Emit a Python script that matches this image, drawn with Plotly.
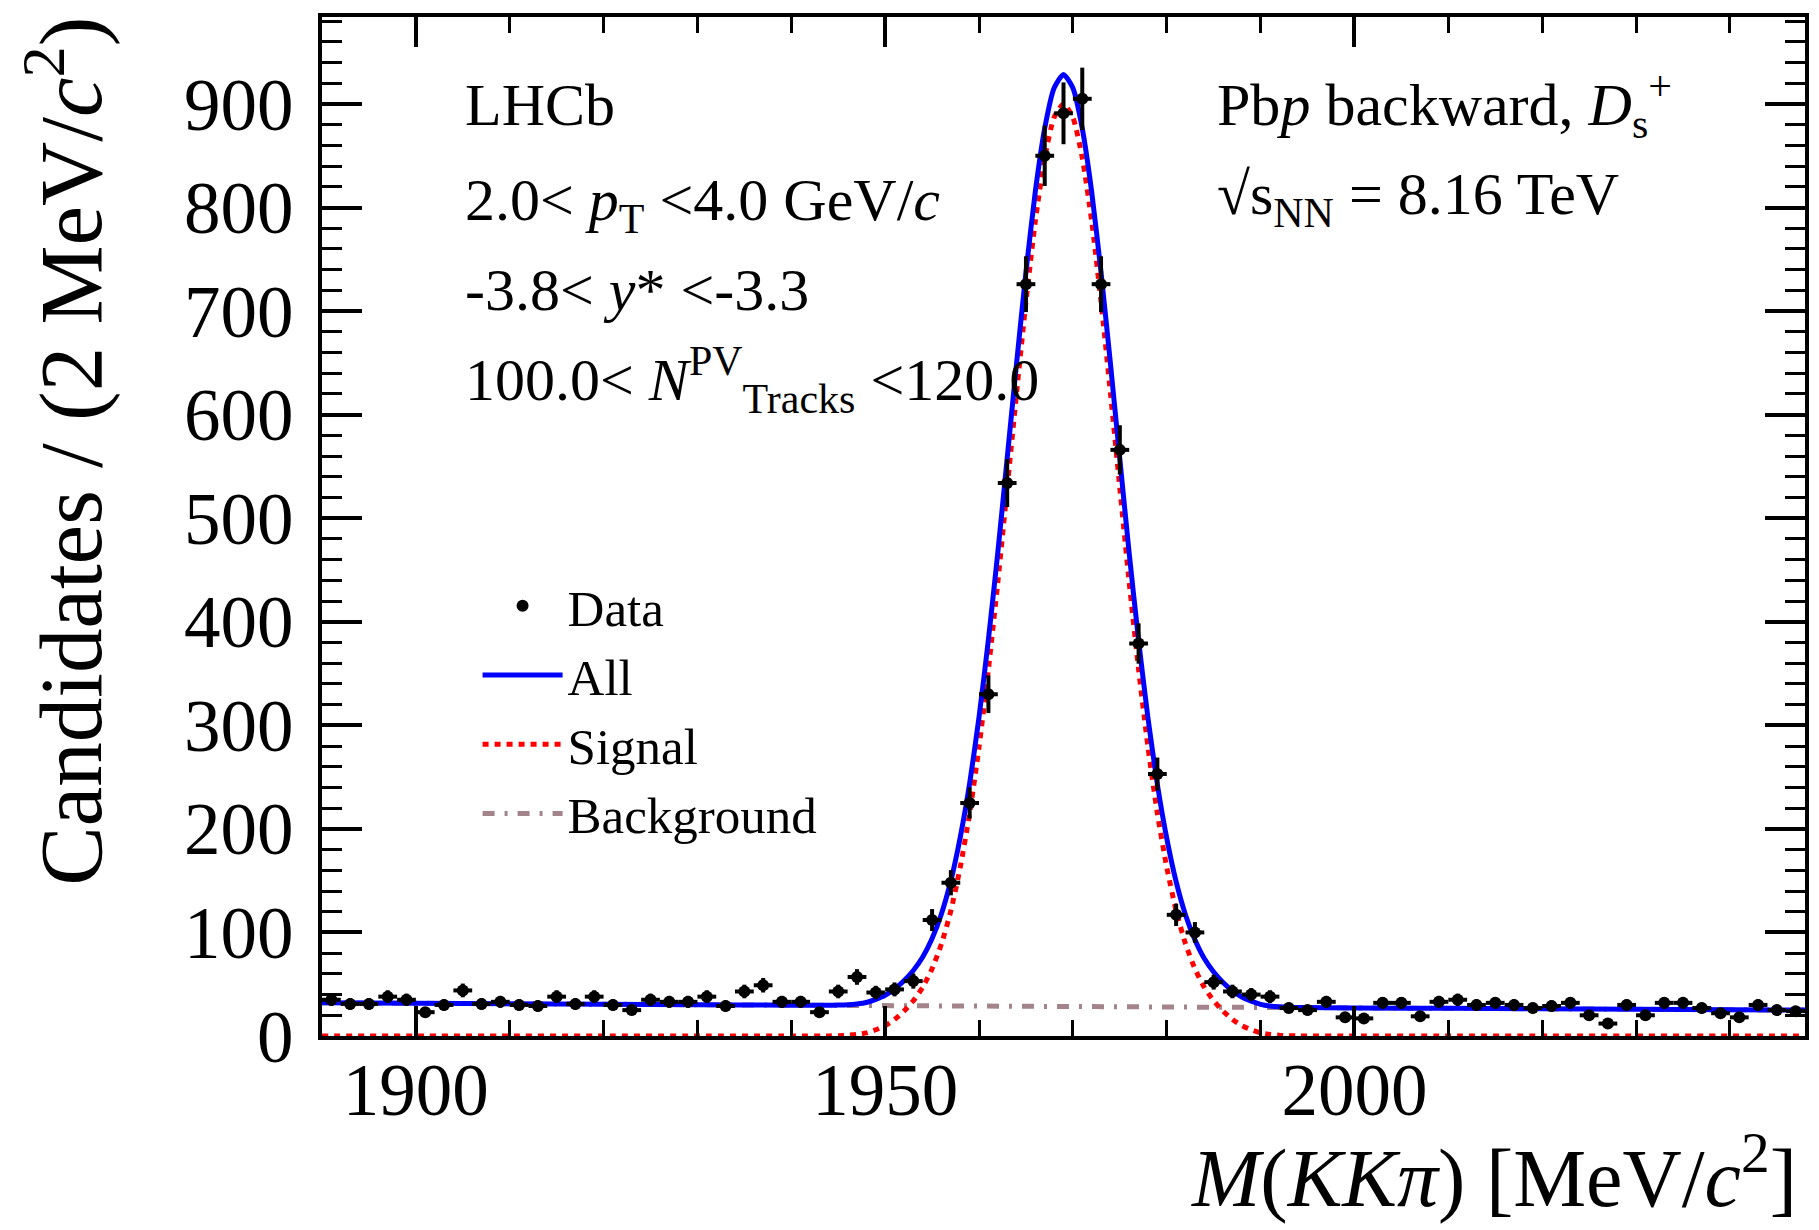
import numpy as np
import plotly.graph_objects as go

# ---------------- data ----------------
bin_centers = list(range(1891, 2048, 2))  # 2 MeV bins, 1890-2048
counts = [35, 31, 31, 38, 35, 23, 30, 44, 31, 33,
          30, 29, 38, 31, 38, 30, 25, 35, 33, 33,
          38, 29, 43, 49, 33, 33, 23, 43, 57, 42,
          45, 53, 112, 148, 225, 330, 534, 726, 850, 891,
          905, 726, 566, 379, 253, 117, 100, 52, 43, 40,
          38, 27, 25, 33, 18, 17, 32, 32, 19, 33,
          35, 30, 32, 30, 27, 29, 32, 20, 12, 30,
          20, 32, 32, 27, 22, 18, 30, 25, 24]
assert len(counts) == len(bin_centers)
count_errors = np.sqrt(np.array(counts, dtype=float))

fit_x = [1890, 1900, 1910, 1920, 1930, 1940] + list(range(1944, 1995)) + [2000, 2010, 2020, 2030, 2040, 2048]
signal_y = [0, 0, 0, 0, 0, 0,
            0.1, 0.3, 0.7, 1.5, 3, 6, 10, 16, 24, 34, 47, 65, 89, 121, 163, 215, 279, 354, 438, 529,
            621, 709, 787, 848, 887, 900, 887, 848, 787, 709, 621, 529, 438, 354, 279, 215, 163, 121,
            89, 65, 47, 34, 24, 16, 10, 6, 3, 1.5, 0.7, 0.3, 0.1,
            0, 0, 0, 0, 0, 0]
all_y = [32.0, 31.6, 31.1, 30.7, 30.2, 29.8,
         29.7, 29.9, 30.2, 31.0, 32.4, 35.4, 39.3, 45.3, 53.3, 63.2, 76.2, 94.1, 118.1, 150.0, 192.0,
         243.9, 307.9, 382.9, 466.8, 557.8, 649.7, 737.7, 815.6, 876.6, 915.5, 928.5, 915.5, 876.4,
         815.4, 737.3, 649.3, 557.2, 466.2, 382.1, 307.1, 243.1, 191.0, 149.0, 116.9, 92.9, 74.8,
         61.8, 51.7, 43.7, 37.7, 33.6, 30.6, 29.0, 28.2, 27.7, 27.5,
         27.1, 26.7, 26.2, 25.8, 25.4, 25.0]
assert len(signal_y) == len(fit_x) and len(all_y) == len(fit_x)
bkg_x = [1890, 1969, 2048]
bkg_y = [32.0, 28.5, 25.0]

x_range = [1890, 2048]
y_range = [0, 984]
x_tickvals = [1900, 1950, 2000]
y_tickvals = [0, 100, 200, 300, 400, 500, 600, 700, 800, 900]

# ---------------- layout helpers ----------------
W, H = 1819, 1230
PL, PR, PT, PB = 322, 1809, 17, 1036
FONT = "Liberation Serif"


def px_x(x):
    return (x - PL) / (PR - PL)


def px_y(y):
    return (PB - y) / (PB - PT)


fig = go.Figure()

fig.add_trace(go.Scatter(
    x=bkg_x, y=bkg_y, mode="lines", name="Background", legendrank=4,
    line=dict(color="#a3848b", width=5, dash="12px,10px,3px,10px")))
fig.add_trace(go.Scatter(
    x=fit_x, y=signal_y, mode="lines", name="Signal", legendrank=3,
    line=dict(color="#ff0000", width=5, dash="6px,6px", shape="spline", smoothing=0.6)))
fig.add_trace(go.Scatter(
    x=fit_x, y=all_y, mode="lines", name="All", legendrank=2,
    line=dict(color="#0000ff", width=5, shape="spline", smoothing=0.6)))
fig.add_trace(go.Scatter(
    x=bin_centers, y=counts, mode="markers", name="Data", legendrank=1,
    marker=dict(color="black", size=12),
    error_y=dict(type="data", array=count_errors, color="black", thickness=4, width=0),
    error_x=dict(type="constant", value=1, color="black", thickness=4, width=0)))

axis_common = dict(
    showline=True, linecolor="black", linewidth=4, mirror="allticks",
    ticks="inside", tickcolor="black", tickwidth=4,
    showgrid=False, zeroline=False,
    tickfont=dict(family=FONT, size=73, color="black"),
)

fig.update_xaxes(
    range=x_range, tickvals=x_tickvals, ticklen=30,
    minor=dict(dtick=10, tick0=1890, ticks="inside", ticklen=16, tickwidth=3, tickcolor="black"),
    ticklabelstandoff=-13,
    **axis_common)
fig.update_yaxes(
    range=y_range, tickvals=y_tickvals, ticklen=40,
    minor=dict(dtick=20, tick0=0, ticks="inside", ticklen=20, tickwidth=3, tickcolor="black"),
    ticklabelstandoff=10,
    **axis_common)

ann_font = dict(family=FONT, size=60, color="black")
annotations = [
    dict(text="LHCb", x=px_x(463), y=px_y(105)),
    dict(text="2.0< <i>p</i><sub>T</sub> <4.0 GeV/<i>c</i>", x=px_x(463), y=px_y(205)),
    dict(text="-3.8< <i>y</i>* <-3.3", x=px_x(463), y=px_y(290)),
    dict(text="100.0< <i>N</i><sup>PV</sup><sub>Tracks</sub> <120.0", x=px_x(463), y=px_y(380)),
    dict(text="Pb<i>p</i> backward, <i>D</i><sub>s</sub><sup>+</sup>", x=px_x(1217), y=px_y(105)),
    dict(text="√s<sub>NN</sub> = 8.16 TeV", x=px_x(1217), y=px_y(198)),
]
for a in annotations:
    a.update(xref="paper", yref="paper", xanchor="left", yanchor="middle",
             showarrow=False, font=ann_font)

annotations.append(dict(
    text="<i>M</i>(<i>KKπ</i>) [MeV/<i>c</i><sup>2</sup>]",
    x=px_x(1803), y=px_y(1172), xref="paper", yref="paper",
    xanchor="right", yanchor="middle", showarrow=False,
    font=dict(family=FONT, size=82, color="black")))
annotations.append(dict(
    text="Candidates / (2 MeV/<i>c</i><sup>2</sup>)",
    x=px_x(63), y=px_y(451), xref="paper", yref="paper",
    xanchor="center", yanchor="middle", textangle=-90, showarrow=False,
    font=dict(family=FONT, size=89, color="black")))

fig.update_layout(
    width=W, height=H,
    margin=dict(l=PL, r=W - PR, t=PT, b=H - PB),
    paper_bgcolor="white", plot_bgcolor="white",
    annotations=annotations,
    showlegend=True,
    legend=dict(
        x=px_x(478), y=px_y(566), xanchor="left", yanchor="top",
        bgcolor="rgba(0,0,0,0)", borderwidth=0,
        font=dict(family=FONT, size=51, color="black"),
        itemwidth=80, traceorder="normal", tracegroupgap=0,
    ),
)

fig.write_html("out.html")
